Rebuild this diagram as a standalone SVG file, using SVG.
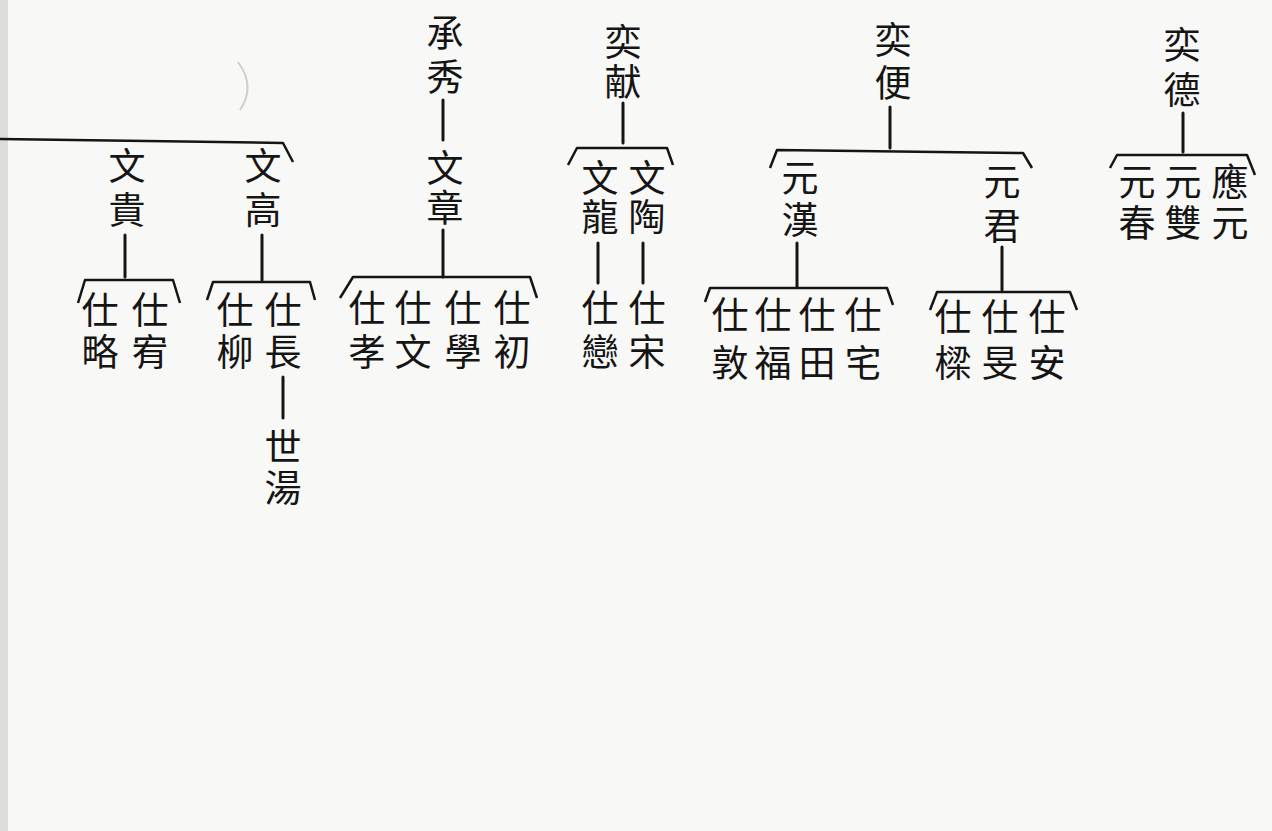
<svg xmlns="http://www.w3.org/2000/svg" width="1272" height="831" viewBox="0 0 1272 831">
<style>
text{font-family:"Noto Sans CJK TC","Noto Sans CJK SC",sans-serif;font-size:37px;fill:#151515;writing-mode:vertical-rl;text-orientation:upright;text-anchor:start}
.c{fill:none;stroke:#151515;stroke-width:3;stroke-linecap:round;stroke-linejoin:round}
.b{fill:none;stroke:#151515;stroke-width:2.5;stroke-linejoin:round}
</style>
<rect width="1272" height="831" fill="#f8f8f6"/>
<rect x="0" y="0" width="8" height="831" fill="#dcdcda"/>
<path d="M238 62 Q256 86 240 110" fill="none" stroke="#cfcfcf" stroke-width="2"/>
<g id="connectors">
<polyline class="b" points="0,139 283,143 293,162"/>
<line class="c" x1="125" y1="235" x2="125" y2="277"/>
<polyline class="b" points="78,303 85,280 173,280 180,303"/>
<line class="c" x1="262" y1="235" x2="262" y2="280"/>
<polyline class="b" points="207,300 213,282 310,282 315,300"/>
<line class="c" x1="283" y1="377" x2="283" y2="418"/>
<line class="c" x1="443" y1="100" x2="443" y2="140"/>
<line class="c" x1="443" y1="230" x2="443" y2="277"/>
<polyline class="b" points="340,298 353,277 530,277 537,298"/>
<line class="c" x1="623" y1="103" x2="623" y2="143"/>
<polyline class="b" points="568,165 577,148 667,148 673,165"/>
<line class="c" x1="598" y1="243" x2="598" y2="283"/>
<line class="c" x1="643" y1="243" x2="643" y2="283"/>
<line class="c" x1="890" y1="107" x2="890" y2="148"/>
<polyline class="b" points="770,168 777,150 1023,153 1032,168"/>
<line class="c" x1="797" y1="243" x2="797" y2="287"/>
<polyline class="b" points="705,302 710,288 887,288 893,305"/>
<line class="c" x1="1002" y1="247" x2="1002" y2="290"/>
<polyline class="b" points="930,310 937,292 1070,292 1077,310"/>
<line class="c" x1="1183" y1="113" x2="1183" y2="152"/>
<polyline class="b" points="1110,168 1117,155 1247,155 1255,175"/>
</g>
<g id="n-wengui"><text x="127" y="147.5" letter-spacing="7">文貴</text></g>
<g id="n-shilue"><text x="100" y="291.5" letter-spacing="5">仕略</text></g>
<g id="n-shiyou"><text x="150" y="291.5" letter-spacing="5">仕宥</text></g>
<g id="n-wengao"><text x="263" y="147.5" letter-spacing="7">文高</text></g>
<g id="n-shiliu"><text x="235" y="291.5" letter-spacing="5">仕柳</text></g>
<g id="n-shichang"><text x="283" y="291.5" letter-spacing="5">仕長</text></g>
<g id="n-shitang"><text x="283" y="428.5" letter-spacing="4">世湯</text></g>
<g id="n-chengxiu"><text x="445" y="14.5" letter-spacing="7">承秀</text></g>
<g id="n-wenzhang"><text x="445" y="149.5" letter-spacing="3">文章</text></g>
<g id="n-shixiao"><text x="367" y="289.5" letter-spacing="7">仕孝</text></g>
<g id="n-shiwen"><text x="413" y="289.5" letter-spacing="7">仕文</text></g>
<g id="n-shixue"><text x="463" y="289.5" letter-spacing="7">仕學</text></g>
<g id="n-shichu"><text x="512" y="289.5" letter-spacing="7">仕初</text></g>
<g id="n-yixian"><text x="623" y="23.5" letter-spacing="3">奕献</text></g>
<g id="n-wenlong"><text x="600" y="159.5" letter-spacing="2">文龍</text></g>
<g id="n-wentao"><text x="647" y="159.5" letter-spacing="2">文陶</text></g>
<g id="n-shilian"><text x="600" y="289.5" letter-spacing="7">仕戀</text></g>
<g id="n-shisong"><text x="647" y="289.5" letter-spacing="7">仕宋</text></g>
<g id="n-yibian"><text x="893" y="21.5" letter-spacing="6">奕便</text></g>
<g id="n-yuanhan"><text x="800" y="159.5" letter-spacing="5">元漢</text></g>
<g id="n-shidun"><text x="730" y="296.5" letter-spacing="11">仕敦</text></g>
<g id="n-shifu"><text x="773" y="296.5" letter-spacing="11">仕福</text></g>
<g id="n-shitian"><text x="817" y="296.5" letter-spacing="11">仕田</text></g>
<g id="n-shizhai"><text x="863" y="296.5" letter-spacing="11">仕宅</text></g>
<g id="n-yuanjun"><text x="1002" y="163.5" letter-spacing="7">元君</text></g>
<g id="n-shiliang"><text x="953" y="298.5" letter-spacing="9">仕樑</text></g>
<g id="n-shimin"><text x="1000" y="298.5" letter-spacing="9">仕旻</text></g>
<g id="n-shian"><text x="1047" y="298.5" letter-spacing="9">仕安</text></g>
<g id="n-yide"><text x="1182" y="26.5" letter-spacing="8">奕德</text></g>
<g id="n-yuanchun"><text x="1137" y="163.5" letter-spacing="4">元春</text></g>
<g id="n-yuanshuang"><text x="1183" y="163.5" letter-spacing="4">元雙</text></g>
<g id="n-yingyuan"><text x="1230" y="163.5" letter-spacing="4">應元</text></g>
</svg>
